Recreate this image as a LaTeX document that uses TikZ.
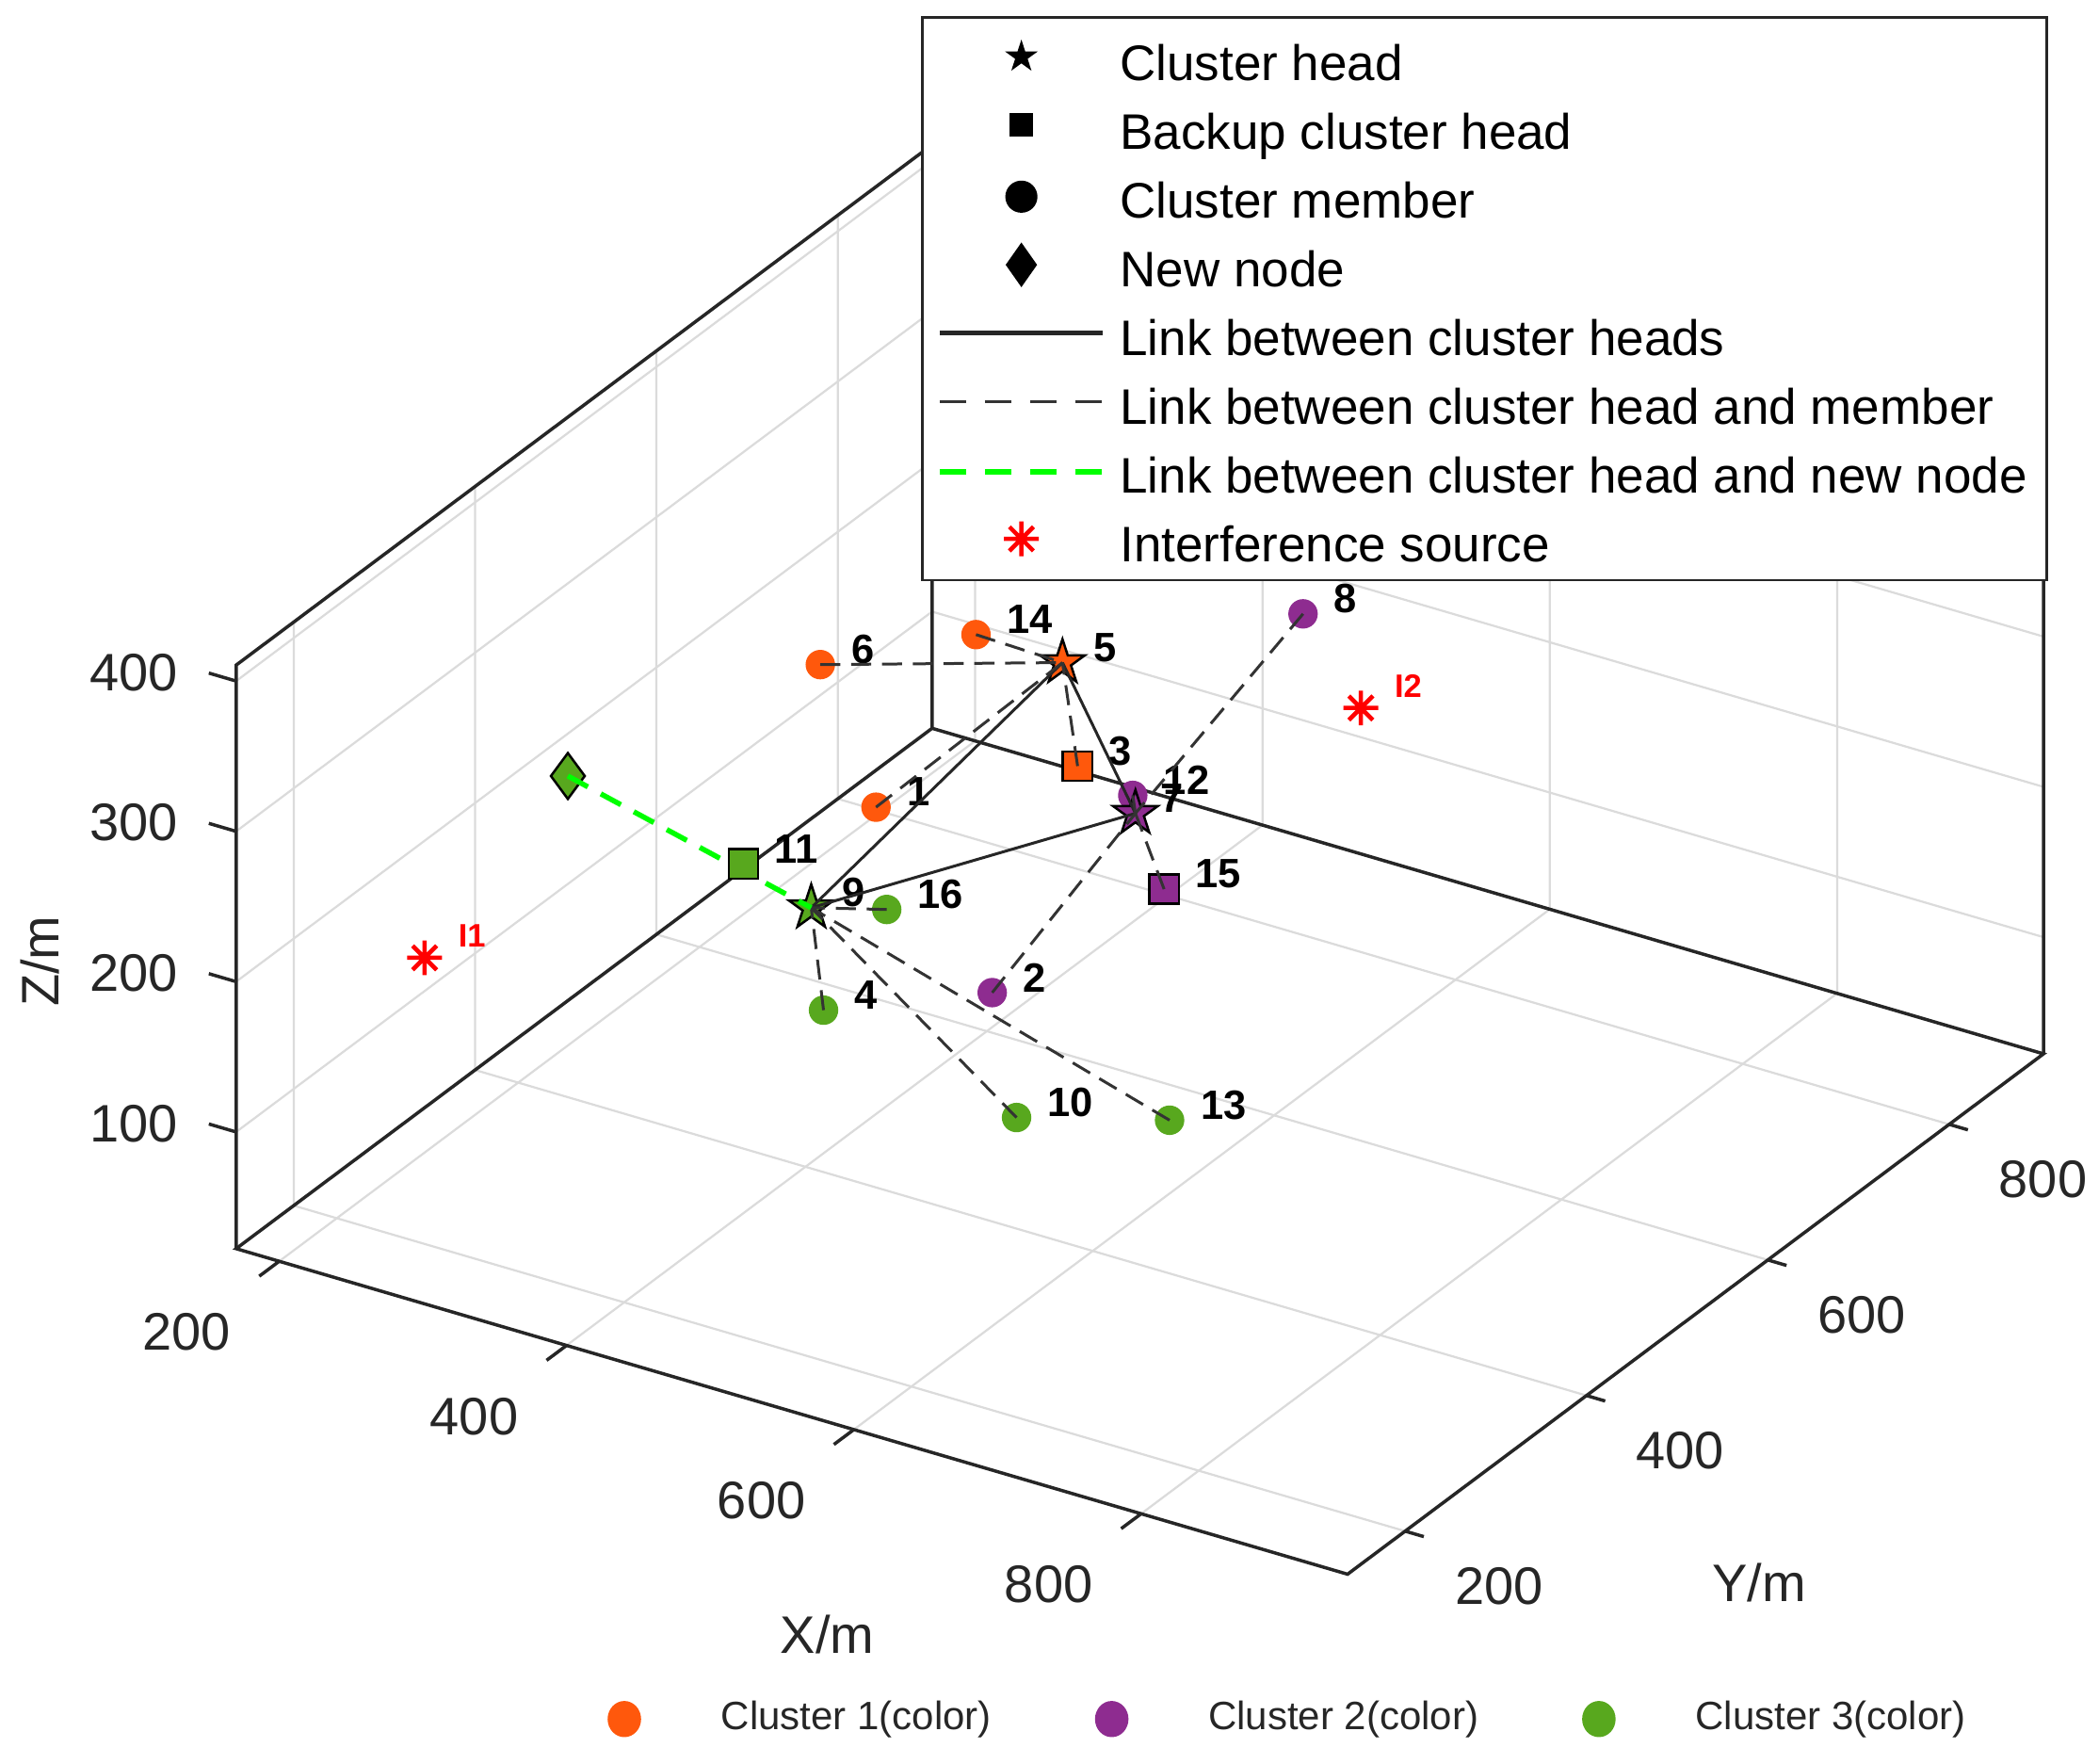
\documentclass[tikz,border=0pt]{standalone}
\usepackage{fontspec}
\setmainfont{Liberation Sans}
\usetikzlibrary{positioning,shapes.geometric}

\definecolor{clusterA}{RGB}{255,88,12}
\definecolor{clusterB}{RGB}{142,44,144}
\definecolor{clusterC}{RGB}{88,168,30}
\definecolor{newlink}{RGB}{0,255,0}
\definecolor{axisgray}{gray}{0.15}
\definecolor{gridgray}{gray}{0.86}

% axis limits (in hundreds of metres)
\def\Xlo{1.70}
\def\Xhi{9.437}
\def\Ylo{1.365}
\def\Yhi{9.04}
\def\Zlo{0.2237}
\def\Zhi{4.106}

\tikzset{
  clmember/.style={circle, fill, inner sep=0pt, minimum size=0.22cm},
  clhead/.style={star, star points=5, star point ratio=2.62, draw=black, line width=0.5pt, inner sep=0pt, minimum size=0.35cm},
  clbackup/.style={rectangle, draw=black, line width=0.5pt, inner sep=0pt, minimum size=0.22cm},
  clnew/.style={diamond, draw=black, line width=0.5pt, inner sep=0pt, minimum width=0.26cm, minimum height=0.35cm},
  numlab/.style={font=\fontsize{8.7}{10}\selectfont\bfseries, inner sep=0pt, anchor=west, yshift=0.113cm},
  ilabel/.style={text=red, font=\fontsize{6.9}{8}\selectfont\bfseries, inner sep=0pt, anchor=west, yshift=0.164cm},
  headlink/.style={draw=black!85, line width=0.6pt},
  memberlink/.style={draw=black!80, line width=0.6pt, dash pattern=on 0.15cm off 0.08cm},
  nodelink/.style={draw=newlink, line width=1.1pt, dash pattern=on 0.17cm off 0.11cm},
  gridline/.style={gridgray, line width=0.45pt},
  axisline/.style={axisgray, line width=0.7pt},
  ticklab/.style={font=\fontsize{11.2}{13}\selectfont, text=axisgray, inner sep=0pt},
  legtext/.style={font=\fontsize{10.6}{12}\selectfont, anchor=base west, inner sep=0pt},
  keytext/.style={font=\fontsize{8.4}{10}\selectfont, text=axisgray, anchor=west, inner sep=0pt},
  interf/.pic={\draw[red, line width=0.9pt] (-13,0) -- (13,0) (0,-13) -- (0,13) (-9,-9) -- (9,9) (-9,9) -- (9,-9);}
}

\begin{document}
\begin{tikzpicture}[x=0.01cm, y=-0.01cm]
\useasboundingbox (0,0) rectangle (1568,1317);

% axes box, grid and ticks
\begin{scope}[shift={(-0.9844cm,-9.7288cm)}, x={(1.0725cm,-0.3141cm)}, y={(0.6770cm,0.5061cm)}, z={(0cm,1.122cm)}]
\foreach \t in {2,4,6,8} {
  \draw[gridline] (\t,\Ylo,\Zlo) -- (\t,\Yhi,\Zlo) -- (\t,\Yhi,\Zhi);
  \draw[gridline] (\Xhi,\t,\Zlo) -- (\Xlo,\t,\Zlo) -- (\Xlo,\t,\Zhi);
}
\foreach \t in {1,...,4}
  \draw[gridline] (\Xlo,\Ylo,\t) -- (\Xlo,\Yhi,\t) -- (\Xhi,\Yhi,\t);
\draw[axisline] (\Xlo,\Ylo,\Zlo) -- (\Xhi,\Ylo,\Zlo) -- (\Xhi,\Yhi,\Zlo) -- (\Xlo,\Yhi,\Zlo) -- cycle;
\draw[axisline] (\Xlo,\Ylo,\Zlo) -- (\Xlo,\Ylo,\Zhi) -- (\Xlo,\Yhi,\Zhi) -- (\Xlo,\Yhi,\Zlo);
\draw[axisline] (\Xlo,\Yhi,\Zhi) -- (\Xhi,\Yhi,\Zhi) -- (\Xhi,\Yhi,\Zlo);
\foreach \t in {2,4,6,8} {
  \draw[axisline] (\t,\Ylo,\Zlo) -- ++(0,-0.22,0);
  \node[ticklab, xshift=-0.69cm, yshift=-0.53cm] (xt\t) at (\t,\Ylo,\Zlo) {\t00};
  \draw[axisline] (\Xhi,\t,\Zlo) -- ++(0.13,0,0);
  \node[ticklab, xshift=0.70cm, yshift=-0.41cm] (yt\t) at (\Xhi,\t,\Zlo) {\t00};
}
\foreach \t in {1,...,4} {
  \draw[axisline] (\Xlo,\Ylo,\t) -- ++(-0.19,0,0);
  \node[ticklab, anchor=east, xshift=-0.427cm, yshift=0.064cm] (zt\t) at (\Xlo,\Ylo,\t) {\t00};
}
\end{scope}
\node[ticklab] (xlab) at (618,1221) {X/m};
\node[ticklab] (ylab) at (1314,1182) {Y/m};
\node[ticklab, rotate=90] (zlab) at (30,718) {Z/m};

% sensor nodes
\node[clmember, fill=clusterA] (n6) at (612.8,496.4) {};
\node[clmember, fill=clusterA] (n14) at (729.1,474) {};
\node[clmember, fill=clusterA] (n1) at (654.4,602.9) {};
\node[clbackup, fill=clusterA] (n3) at (805,572.2) {};
\node[clhead, fill=clusterA] (n5) at (793.7,494.9) {};
\node[clmember, fill=clusterB] (n8) at (973.4,458.5) {};
\node[clmember, fill=clusterB] (n12) at (846.2,594.1) {};
\node[clmember, fill=clusterB] (n2) at (741.2,741.4) {};
\node[clbackup, fill=clusterB] (n15) at (869.6,664.1) {};
\node[clhead, fill=clusterB] (n7) at (848.2,607.5) {};
\node[clmember, fill=clusterC] (n16) at (662.4,679.3) {};
\node[clmember, fill=clusterC] (n4) at (615.2,754.5) {};
\node[clmember, fill=clusterC] (n10) at (759.4,834.7) {};
\node[clmember, fill=clusterC] (n13) at (873.7,836.7) {};
\node[clhead, fill=clusterC] (n9) at (606,678) {};
\node[clnew, fill=clusterC] (nnew) at (424.2,579.6) {};

% node numbers
\foreach \n in {1,...,6,8,9,10,12,13,14,15,16}
  \node[numlab, right=2.25mm of n\n.center] (lab\n) {\n};
\node[numlab, right=1.8mm of n7.center] (lab7) {7};

% links
\draw[headlink] (n5.center) -- (n9.center);
\draw[headlink] (n9.center) -- (n7.center);
\draw[headlink] (n5.center) -- (n7.center);
\foreach \m in {6,14,1,3}
  \draw[memberlink] (n\m.center) -- (n5.center);
\foreach \m in {8,12,15,2}
  \draw[memberlink] (n\m.center) -- (n7.center);
\foreach \m in {16,4,10,13}
  \draw[memberlink] (n\m.center) -- (n9.center);
\draw[nodelink] (nnew.center) -- (n9.center);
\node[clbackup, fill=clusterC] (n11) at (555.4,645.2) {};
\node[numlab, right=2.25mm of n11.center] (lab11) {11};

% interference sources
\coordinate (i1) at (317.2,715.4);
\coordinate (i2) at (1016.6,528.8);
\pic at (i1) {interf};
\pic at (i2) {interf};
\node[ilabel, right=2.45mm of i1] (i1lab) {I1};
\node[ilabel, right=2.45mm of i2] (i2lab) {I2};

% legend
\node[draw=axisgray, fill=white, line width=0.5pt, inner sep=0pt, anchor=north west,
  minimum width=8.395cm, minimum height=4.203cm] (legend) at (688,12) {};
\foreach \txt [count=\k from 0] in {Cluster head, Backup cluster head, Cluster member, New node,
  Link between cluster heads, Link between cluster head and member,
  Link between cluster head and new node, Interference source}
  \node[legtext] (leg\k) at (836,60+51.4*\k) {\txt};
\node[clhead, fill=black, minimum size=0.2cm] (symhead) at (763,42.4) {};
\node[clbackup, fill=black, minimum size=0.16cm] (symbackup) at (763,93.2) {};
\node[clmember, fill=black, minimum size=0.24cm] (symmember) at (763,146.9) {};
\node[clnew, fill=black, minimum width=0.22cm, minimum height=0.31cm] (symnew) at (763,197.8) {};
\draw[headlink, line width=1.1pt] (702,248.6) -- ++(121.5,0);
\draw[memberlink, dash pattern=on 0.197cm off 0.14cm] (702,300.3) -- ++(121.5,0);
\draw[nodelink, line width=1.2pt, dash pattern=on 0.197cm off 0.14cm] (702,352.5) -- ++(121.5,0);
\pic at (763,402.5) {interf};

% cluster colour key
\foreach \c/\k/\x in {clusterA/1/466.4, clusterB/2/830.5, clusterC/3/1194.4} {
  \node[clmember, fill=\c, minimum width=0.25cm, minimum height=0.27cm, ellipse] (key\k) at (\x,1284) {};
  \node[keytext, right=7.15mm of key\k.center] (keylab\k) {Cluster \k(color)};
}
\end{tikzpicture}
\end{document}
